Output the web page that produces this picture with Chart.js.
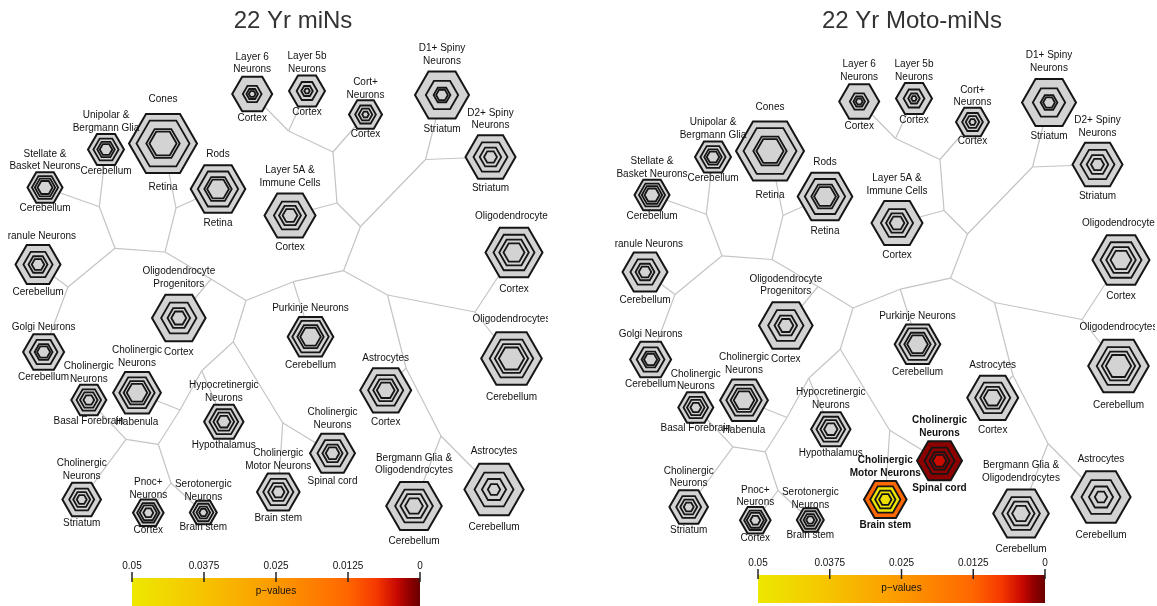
<!DOCTYPE html>
<html>
<head>
<meta charset="utf-8">
<title>Cell-type specific expression analysis</title>
<script src="https://cdn.jsdelivr.net/npm/chart.js@4.4.1/dist/chart.umd.min.js"></script>
<style>
  html, body { margin: 0; padding: 0; background: #ffffff; }
  #figure { position: relative; width: 1157px; height: 606px; overflow: hidden; background: #ffffff; }
  .panel { position: absolute; top: 0; }
  canvas { display: block; }
</style>
</head>
<body>
<div id="figure">
  <div class="panel" style="left:8px"><canvas id="miNs" width="540" height="606"></canvas></div>
  <div class="panel" style="left:615px"><canvas id="motoMiNs" width="540" height="606"></canvas></div>
</div>
<script>
// ---- cell types (leaves of the tree) ----
const cellTypes = [
  'Layer 6\nNeurons', 'Layer 5b\nNeurons', 'Cort+\nNeurons', 'D1+ Spiny\nNeurons', 'D2+ Spiny\nNeurons',
  'Cones', 'Rods', 'Unipolar &\nBergmann Glia', 'Stellate &\nBasket Neurons', 'Layer 5A &\nImmune Cells',
  'Oligodendrocytes', 'Granule Neurons', 'Oligodendrocyte\nProgenitors', 'Purkinje Neurons', 'Oligodendrocytes',
  'Golgi Neurons', 'Cholinergic\nNeurons', 'Cholinergic\nNeurons', 'Hypocretinergic\nNeurons', 'Cholinergic\nNeurons',
  'Cholinergic\nMotor Neurons', 'Astrocytes', 'Bergmann Glia &\nOligodendrocytes', 'Astrocytes', 'Cholinergic\nNeurons',
  'Pnoc+\nNeurons', 'Serotonergic\nNeurons'
];
const tissues = [
  'Cortex', 'Cortex', 'Cortex', 'Striatum', 'Striatum',
  'Retina', 'Retina', 'Cerebellum', 'Cerebellum', 'Cortex',
  'Cortex', 'Cerebellum', 'Cortex', 'Cerebellum', 'Cerebellum',
  'Cerebellum', 'Habenula', 'Basal Forebrain', 'Hypothalamus', 'Spinal cord',
  'Brain stem', 'Cortex', 'Cerebellum', 'Cerebellum', 'Striatum',
  'Cortex', 'Brain stem'
];

// ---- tree layout coordinates ----
const leafX = [252.2, 307, 365.5, 442, 490.5, 163, 218, 106, 45, 290, 514, 38, 178.8, 310.5, 511.5,
               43.6, 137, 88.8, 223.8, 332.5, 278.3, 385.7, 414, 494, 81.7, 148.3, 203.3];
const leafY = [94, 91, 114.5, 95, 157, 143.5, 189, 149.5, 187.5, 215.5, 252.5, 264.5, 318, 336.7, 358.5,
               352, 392.7, 400, 421.7, 453.3, 492, 390.3, 506, 489.5, 499.5, 512.8, 512.5];
const branchIds = ['a','b','c','d','e','f','g','h','i','j','k','l','m','n','o','p','q','r','s','t','u','w','x','y','z'];
const branchX = [288.5, 333, 337, 360.5, 425.5, 343.5, 293.3, 387.5, 246, 475, 406, 441, 233.3, 201.7, 282.7,
                 211, 165, 176, 115, 99.3, 68, 180, 158.3, 126, 171];
const branchY = [131, 152, 203, 226.5, 159.5, 270.7, 281.7, 295, 300.5, 312, 368, 436, 341.7, 370.7, 422.7,
                 279, 252, 208, 248.3, 206.7, 287, 410, 444.3, 439.3, 483];
const edgeFrom = ['a','a','a','b','b','c','c','d','d','e','e','f','f','g','g','h','h','j','j','k','k','l','l',
                  'i','i','p','p','q','q','r','r','s','s','t','t','u','u','m','m','o','o','n','n','w','w','x','x','y','y','z','z'];
const edgeTo   = [0, 1, 'b', 2, 'c', 9, 'd', 'e', 'f', 3, 4, 'g', 'h', 13, 'i', 'j', 'k', 10, 14, 21, 'l', 22, 23,
                  'p', 'm', 12, 'q', 'r', 's', 5, 6, 't', 'u', 7, 8, 11, 15, 'n', 'o', 20, 19, 18, 'w', 16, 'x', 'y', 'z', 17, 24, 25, 26];

// ---- specific gene-set sizes at each pSI threshold (hexagon radius units) ----
const setSize05   = [20, 18, 16.5, 27, 25, 34, 27.3, 18, 17.5, 25.5, 28.5, 22.5, 26.8, 22.8, 30.3,
                     20.5, 23.9, 17.5, 19.7, 22.5, 21.3, 25.5, 27.8, 29.6, 19.3, 15.3, 13.5];
const setSize01   = [9.4, 10.4, 10.4, 16.2, 17, 26.5, 20.2, 12.6, 13.1, 16.1, 20.5, 14.6, 17.7, 18.2, 21.8,
                     13.9, 17.7, 12.3, 14.4, 15.1, 15.1, 17.6, 18.9, 19.5, 12.5, 11.2, 10.1];
const setSize001  = [5.8, 5.8, 6.8, 8.4, 10.8, 16.7, 13.7, 8.8, 10.2, 11, 14.8, 9.5, 11.3, 13.2, 16.7,
                     9, 13.4, 8.8, 10.4, 10.1, 10.2, 12.5, 13.6, 12.1, 8.5, 8.6, 6.8];
const setSize0001 = [3.4, 2.7, 3.3, 5.9, 6.5, 13.6, 10.9, 6.3, 7.5, 7.4, 10.5, 6.3, 7.5, 10.3, 12.7,
                     6.6, 10.3, 5.4, 6.7, 6.8, 6.2, 8.9, 8.9, 6.2, 5, 5, 4.1];

// ---- enrichment p-values (only cell types below 0.05 are listed) ----
const miNsHitCells = [];
const miNsHitP = [];
const motoHitCells = [19, 20];
const motoHitP = [[0.0017, 0.0018, 0.0019, 0.0042], [0.013, 0.049, 0.048, 0.047]];

// ---- colour key ----
const keyTicks = [0.05, 0.0375, 0.025, 0.0125, 0];
const keyTickLabels = ['0.05', '0.0375', '0.025', '0.0125', '0'];
const keyStopP = [0.05, 0.0375, 0.025, 0.0125, 0.0075, 0.004, 0.002, 0];
const keyStopColor = ['#ede800', '#f6c300', '#fc9900', '#ff6600', '#f53700', '#c80800', '#930000', '#6a0000'];

// ---- page placement of the two panels ----
const panels = {
  miNs: {
    title: '22 Yr miNs', left: 8, width: 540, dx: 0, dy: 0,
    titleX: 293, titleY: 21, keyL: 132, keyR: 420, keyTop: 578, keyBot: 606,
    hitCells: miNsHitCells, hitP: miNsHitP
  },
  motoMiNs: {
    title: '22 Yr Moto-miNs', left: 615, width: 540, dx: 607, dy: 7.5,
    titleX: 912, titleY: 21, keyL: 758, keyR: 1045, keyTop: 575, keyBot: 603,
    hitCells: motoHitCells, hitP: motoHitP
  }
};

const FONT = '"Liberation Sans", Arial, Helvetica, sans-serif';
const NS_FILL = '#d3d3d3';

function hexToRgb(h) {
  return [parseInt(h.slice(1, 3), 16), parseInt(h.slice(3, 5), 16), parseInt(h.slice(5, 7), 16)];
}
function colorForP(p) {
  if (p === null || p === undefined || p > 0.05) return NS_FILL;
  for (let k = 0; k < keyStopP.length - 1; k++) {
    const hi = keyStopP[k], lo = keyStopP[k + 1];
    if (p <= hi && p >= lo) {
      const t = (hi - p) / (hi - lo);
      const a = hexToRgb(keyStopColor[k]), b = hexToRgb(keyStopColor[k + 1]);
      const c = a.map((v, j) => Math.round(v + (b[j] - v) * t));
      return 'rgb(' + c.join(',') + ')';
    }
  }
  return keyStopColor[keyStopColor.length - 1];
}

function nodePos(id) {
  if (typeof id === 'number') return { x: leafX[id], y: leafY[id] };
  const k = branchIds.indexOf(id);
  return { x: branchX[k], y: branchY[k] };
}

function hexPath(ctx, cx, cy, r) {
  ctx.beginPath();
  for (let k = 0; k < 6; k++) {
    const a = k * Math.PI / 3;
    const px = cx + r * Math.cos(a), py = cy + r * Math.sin(a);
    if (k === 0) ctx.moveTo(px, py); else ctx.lineTo(px, py);
  }
  ctx.closePath();
}

// Draws the nested hexagons, the cell-type labels, the title and the colour key.
const hexNodes = {
  id: 'hexNodes',
  afterDatasetsDraw(chart) {
    const cfg = panels[chart.canvas.id];
    const ctx = chart.ctx;
    const xs = chart.scales.x;
    const meta = chart.getDatasetMeta(chart.data.datasets.length - 1);
    const ringSets = [setSize05, setSize01, setSize001, setSize0001];
    const unit = xs.getPixelForValue(1) - xs.getPixelForValue(0);

    ctx.save();
    // hexagons, outermost threshold first
    meta.data.forEach((el, i) => {
      const hit = cfg.hitCells.indexOf(i);
      ringSets.forEach((sizes, ring) => {
        const r = sizes[i] * unit;
        const p = hit >= 0 ? cfg.hitP[hit][ring] : null;
        hexPath(ctx, el.x, el.y, r);
        ctx.fillStyle = colorForP(p);
        ctx.fill();
        ctx.lineWidth = ring === 0 ? 2 : 1.8;
        ctx.strokeStyle = '#161616';
        ctx.lineJoin = 'miter';
        ctx.stroke();
      });
    });
    // labels: cell type above, tissue below
    ctx.textAlign = 'center';
    ctx.textBaseline = 'middle';
    ctx.fillStyle = '#111111';
    meta.data.forEach((el, i) => {
      const hit = cfg.hitCells.indexOf(i) >= 0;
      ctx.font = (hit ? 'bold ' : '') + '10px ' + FONT;
      const R = setSize05[i] * unit;
      const gap = 1.41 * R - 3.9;
      const lines = cellTypes[i].split('\n');
      lines.forEach((txt, k) => {
        ctx.fillText(txt, el.x, el.y - gap - (lines.length - 1 - k) * 12.8);
      });
      ctx.fillText(tissues[i], el.x, el.y + gap);
    });
    // title
    ctx.font = '24px ' + FONT;
    ctx.fillStyle = '#333333';
    ctx.fillText(cfg.title, cfg.titleX - cfg.left, cfg.titleY);

    // colour key
    const kl = cfg.keyL - cfg.left, kr = cfg.keyR - cfg.left;
    const grad = ctx.createLinearGradient(kl, 0, kr, 0);
    keyStopP.forEach((p, k) => grad.addColorStop((0.05 - p) / 0.05, keyStopColor[k]));
    ctx.fillStyle = grad;
    ctx.fillRect(kl, cfg.keyTop, kr - kl, cfg.keyBot - cfg.keyTop);
    ctx.strokeStyle = '#222';
    ctx.lineWidth = 1.5;
    ctx.font = '10px ' + FONT;
    ctx.fillStyle = '#111111';
    keyTicks.forEach((p, k) => {
      const tx = kl + (0.05 - p) / 0.05 * (kr - kl);
      ctx.beginPath();
      ctx.moveTo(tx, cfg.keyTop - 6);
      ctx.lineTo(tx, cfg.keyTop + 4);
      ctx.stroke();
      ctx.fillText(keyTickLabels[k], tx, cfg.keyTop - 12);
    });
    ctx.fillText('p\u2212values', (kl + kr) / 2, (cfg.keyTop + cfg.keyBot) / 2 - 1);
    ctx.restore();
  }
};

function buildPanel(id) {
  const cfg = panels[id];
  const edges = edgeFrom.map((f, k) => ({
    data: [nodePos(f), nodePos(edgeTo[k])],
    showLine: true,
    borderColor: '#c4c4c4',
    borderWidth: 1.2,
    pointRadius: 0,
    pointHoverRadius: 0,
    order: 10
  }));
  const leaves = {
    data: leafX.map((x, i) => ({ x: x, y: leafY[i] })),
    pointRadius: 0,
    pointHoverRadius: 0,
    order: 0
  };
  const xMin = cfg.left - cfg.dx;
  const yMin = -cfg.dy;
  return new Chart(document.getElementById(id), {
    type: 'scatter',
    data: { datasets: edges.concat([leaves]) },
    options: {
      responsive: false,
      devicePixelRatio: 1,
      animation: false,
      events: [],
      layout: { padding: 0 },
      scales: {
        x: { type: 'linear', display: false, min: xMin, max: xMin + cfg.width },
        y: { type: 'linear', display: false, min: yMin, max: yMin + 606, reverse: true }
      },
      plugins: {
        legend: { display: false },
        tooltip: { enabled: false },
        title: { display: false }
      }
    },
    plugins: [hexNodes]
  });
}

buildPanel('miNs');
buildPanel('motoMiNs');
</script>
</body>
</html>
